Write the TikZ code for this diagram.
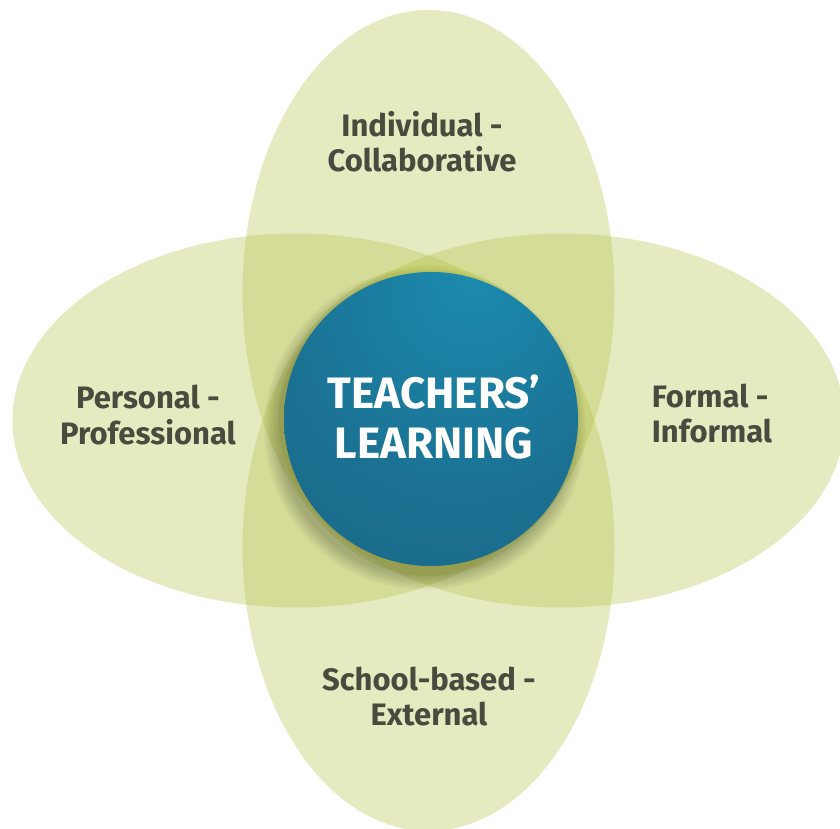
\documentclass[tikz,border=0pt]{standalone}
\usepackage{fontspec}
\setmainfont{Fira Sans}
\usepackage{xcolor}
\usepackage{tikz}
\usetikzlibrary{positioning}
\definecolor{lobegreen}{HTML}{B5C24A}
\definecolor{labelgrey}{HTML}{4A4A3E}
\definecolor{corelight}{HTML}{1B8CB0}
\definecolor{coremid}{HTML}{1B7192}
\definecolor{coredark}{HTML}{185870}
\pgfdeclareradialshading{core ball}{\pgfpoint{8bp}{27bp}}{color(0bp)=(corelight); color(30bp)=(coremid); color(80bp)=(coredark)}
\tikzset{
lobe/.style = { fill = lobegreen, fill opacity = 0.35, draw = none },
lobe label/.style = { text = labelgrey, font = \fontsize{31}{35}\selectfont\bfseries, align = center },
core label/.style = { text = white, font = \fontsize{44}{50}\selectfont\bfseries, align = center },
}

\begin{document}
\begin{tikzpicture}[x = 1pt, y = 1pt]
      \useasboundingbox (0, 0) rectangle (840, 828);
      \clip (0, 0) rectangle (840, 828);
      % the four lobes
      \path[lobe] (428.5, 535) ellipse [x radius = 186, y radius = 283];
      \path[lobe] (428.5, 280) ellipse [x radius = 186, y radius = 283];
      \path[lobe] (295.5, 407.5) ellipse [x radius = 283, y radius = 187];
      \path[lobe] (561.5, 407.5) ellipse [x radius = 283, y radius = 187];
      % soft shadow under the ball
      \foreach \r in {1,...,10} {
        \fill[black, opacity = 0.022] (425, 399) circle [radius = 146 + \r*1.5];
      }
      \shade[shading = core ball] (431, 409) circle [radius = 147];
      \node[core label] (core) at (434, 411) {TEACHERS’\\LEARNING};
      \node[lobe label] (top) at (422, 686) {Individual -\\Collaborative};
      \node[lobe label] (left) at (148, 413) {Personal -\\Professional};
      \node[lobe label, align = left] (right) at (712, 414) {Formal -\\Informal};
      \node[lobe label] (bottom) at (429, 132) {School-based -\\External};
\end{tikzpicture}
\end{document}
